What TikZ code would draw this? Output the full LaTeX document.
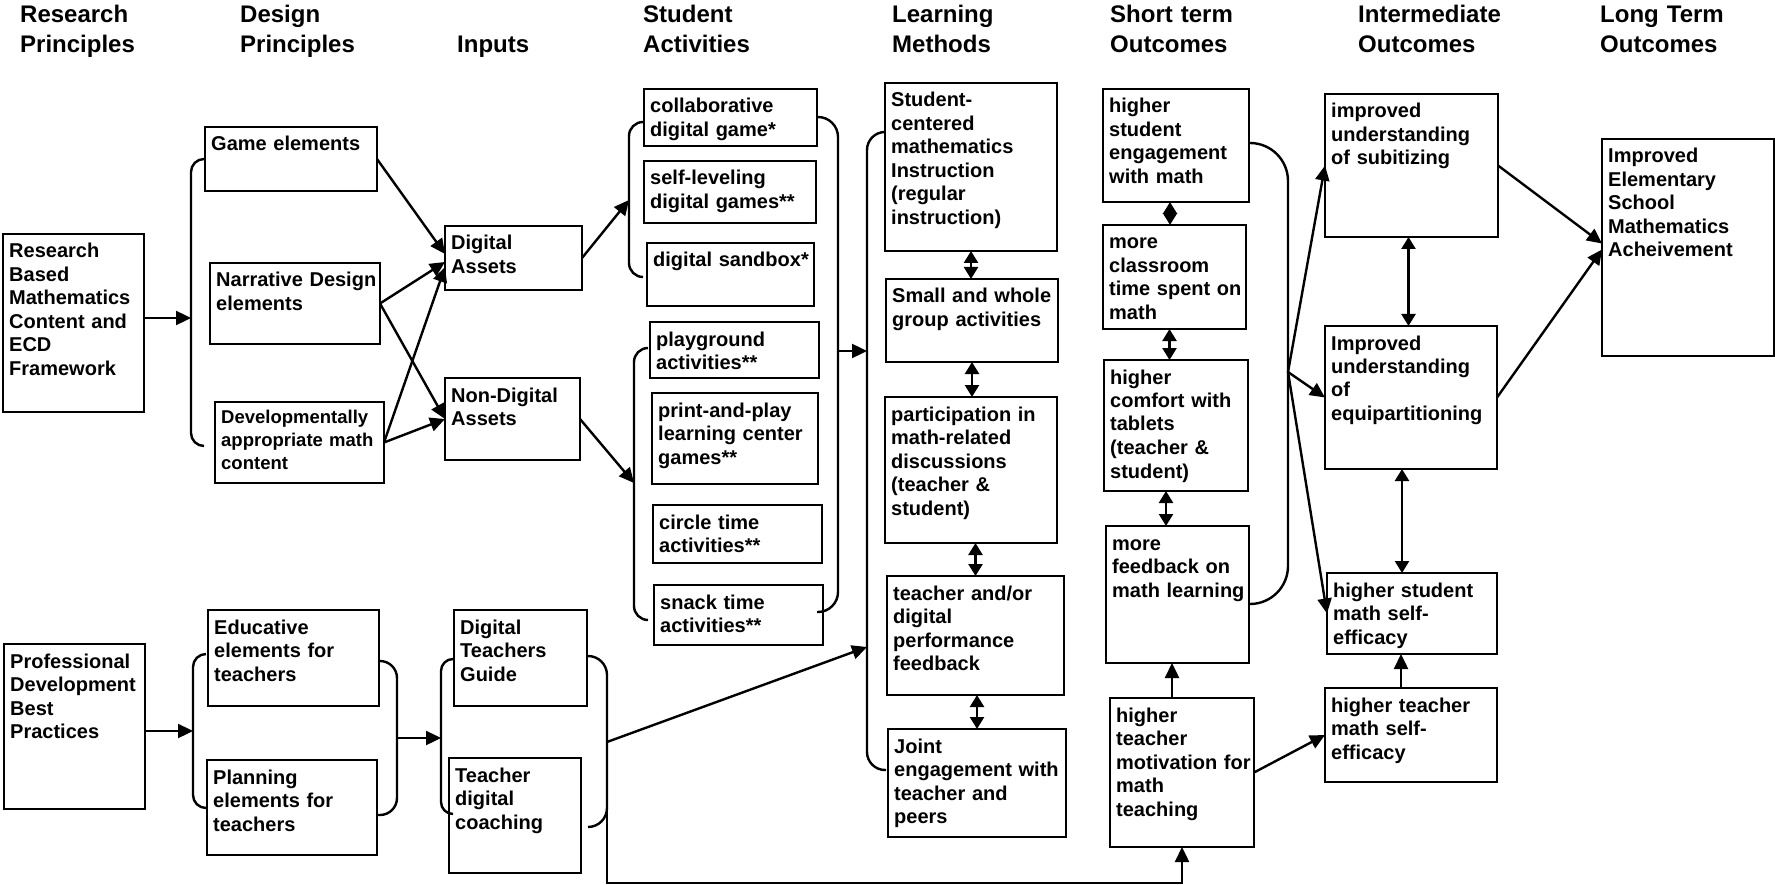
\documentclass[tikz,border=0pt]{standalone}
\usepackage{fontspec}
\setmainfont{Liberation Sans}
\usetikzlibrary{arrows.meta}

\begin{document}
\begin{tikzpicture}[x=1pt,y=-1pt,
  box/.style={draw,line width=2.9pt,anchor=north west,inner sep=0pt,outer sep=0pt},
  txt/.style={anchor=base west,xshift=6pt,yshift=-24pt,align=left,text width=300pt,inner sep=0pt,font=\bfseries\fontsize{20}{23.5}\selectfont},
  head/.style={anchor=base west,align=left,text width=300pt,inner sep=0pt,font=\bfseries\fontsize{24}{30}\selectfont},
  conn/.style={line width=2.4pt,-{Triangle[length=15pt,width=14pt]}},
  both/.style={line width=2.4pt,{Triangle[length=12pt,width=14pt]}-{Triangle[length=12pt,width=14pt]}},
  bracket/.style={line width=2.4pt,rounded corners=#1}
]
\useasboundingbox (0,0) rectangle (1775,885);

\node[head] (hRes) at (20,23) {Research\\Principles};
\node[head] (hDes) at (240,23) {Design\\Principles};
\node[head] (hInp) at (457,53) {Inputs};
\node[head] (hAct) at (643,23) {Student\\Activities};
\node[head] (hLrn) at (892,23) {Learning\\Methods};
\node[head] (hSht) at (1110,23) {Short term\\Outcomes};
\node[head] (hMid) at (1358,23) {Intermediate\\Outcomes};
\node[head] (hLng) at (1600,23) {Long Term\\Outcomes};

\node[box,minimum width=141,minimum height=178] (res) at (3,234) {};
\node[txt] (resT) at (res.north west) {Research\\Based\\Mathematics\\Content and\\ECD\\Framework};
\node[box,minimum width=141,minimum height=165] (prof) at (4,644) {};
\node[txt] (profT) at (prof.north west) {Professional\\Development\\Best\\Practices};

\node[box,minimum width=172,minimum height=64] (game) at (205,127) {};
\node[txt] (gameT) at (game.north west) {Game elements};
\node[box,minimum width=170,minimum height=81] (narr) at (210,263) {};
\node[txt] (narrT) at (narr.north west) {Narrative Design\\elements};
\node[box,minimum width=169,minimum height=81] (dev) at (215,402) {};
\node[txt,yshift=3pt,font=\bfseries\fontsize{18.5}{23}\selectfont] (devT) at (dev.north west) {Developmentally\\appropriate math\\content};
\node[box,minimum width=171,minimum height=96] (edu) at (208,610) {};
\node[txt] (eduT) at (edu.north west) {Educative\\elements for\\teachers};
\node[box,minimum width=170,minimum height=95] (plan) at (207,760) {};
\node[txt] (planT) at (plan.north west) {Planning\\elements for\\teachers};

\node[box,minimum width=137,minimum height=64] (dig) at (445,226) {};
\node[txt] (digT) at (dig.north west) {Digital\\Assets};
\node[box,minimum width=135,minimum height=82] (nondig) at (445,378) {};
\node[txt] (nondigT) at (nondig.north west) {Non-Digital\\Assets};
\node[box,minimum width=133,minimum height=96] (dtg) at (454,610) {};
\node[txt] (dtgT) at (dtg.north west) {Digital\\Teachers\\Guide};
\node[box,minimum width=132,minimum height=115] (tdc) at (449,758) {};
\node[txt] (tdcT) at (tdc.north west) {Teacher\\digital\\coaching};

\node[box,minimum width=173,minimum height=57] (collab) at (644,89) {};
\node[txt] (collabT) at (collab.north west) {collaborative\\digital game*};
\node[box,minimum width=172,minimum height=62] (selflev) at (644,161) {};
\node[txt] (selflevT) at (selflev.north west) {self-leveling\\digital games**};
\node[box,minimum width=167,minimum height=63] (sandbox) at (647,243) {};
\node[txt] (sandboxT) at (sandbox.north west) {digital sandbox*};
\node[box,minimum width=169,minimum height=56] (play) at (650,322) {};
\node[txt] (playT) at (play.north west) {playground\\activities**};
\node[box,minimum width=166,minimum height=91] (print) at (652,393) {};
\node[txt] (printT) at (print.north west) {print-and-play\\learning center\\games**};
\node[box,minimum width=169,minimum height=58] (circle) at (653,505) {};
\node[txt] (circleT) at (circle.north west) {circle time\\activities**};
\node[box,minimum width=169,minimum height=60] (snack) at (654,585) {};
\node[txt] (snackT) at (snack.north west) {snack time\\activities**};

\node[box,minimum width=172,minimum height=168] (sc) at (885,83) {};
\node[txt] (scT) at (sc.north west) {Student-\\centered\\mathematics\\Instruction\\(regular\\instruction)};
\node[box,minimum width=172,minimum height=83] (small) at (886,279) {};
\node[txt] (smallT) at (small.north west) {Small and whole\\group activities};
\node[box,minimum width=172,minimum height=146] (part) at (885,397) {};
\node[txt] (partT) at (part.north west) {participation in\\math-related\\discussions\\(teacher \&\\student)};
\node[box,minimum width=177,minimum height=119] (perf) at (887,576) {};
\node[txt] (perfT) at (perf.north west) {teacher and/or\\digital\\performance\\feedback};
\node[box,minimum width=178,minimum height=108] (joint) at (888,729) {};
\node[txt] (jointT) at (joint.north west) {Joint\\engagement with\\teacher and\\peers};

\node[box,minimum width=146,minimum height=113] (eng) at (1103,89) {};
\node[txt] (engT) at (eng.north west) {higher\\student\\engagement\\with math};
\node[box,minimum width=143,minimum height=104] (room) at (1103,225) {};
\node[txt] (roomT) at (room.north west) {more\\classroom\\time spent on\\math};
\node[box,minimum width=144,minimum height=131] (comf) at (1104,360) {};
\node[txt] (comfT) at (comf.north west) {higher\\comfort with\\tablets\\(teacher \&\\student)};
\node[box,minimum width=143,minimum height=137] (fb) at (1106,526) {};
\node[txt] (fbT) at (fb.north west) {more\\feedback on\\math learning};
\node[box,minimum width=144,minimum height=149] (motiv) at (1110,698) {};
\node[txt] (motivT) at (motiv.north west) {higher\\teacher\\motivation for\\math\\teaching};

\node[box,minimum width=173,minimum height=143] (subit) at (1325,94) {};
\node[txt] (subitT) at (subit.north west) {improved\\understanding\\of subitizing};
\node[box,minimum width=172,minimum height=143] (equi) at (1325,326) {};
\node[txt] (equiT) at (equi.north west) {Improved\\understanding\\of\\equipartitioning};
\node[box,minimum width=170,minimum height=81] (seff) at (1327,573) {};
\node[txt] (seffT) at (seff.north west) {higher student\\math self-\\efficacy};
\node[box,minimum width=172,minimum height=94] (teff) at (1325,688) {};
\node[txt] (teffT) at (teff.north west) {higher teacher\\math self-\\efficacy};

\node[box,minimum width=172,minimum height=217] (achv) at (1602,139) {};
\node[txt] (achvT) at (achv.north west) {Improved\\Elementary\\School\\Mathematics\\Acheivement};

\coordinate (b1) at (191,318);
\coordinate (b2) at (629,200);
\coordinate (b3) at (634,483);
\coordinate (b4) at (838,351);
\coordinate (b5) at (867,351);
\coordinate (b5b) at (867,647);
\coordinate (b6) at (193,731);
\coordinate (b7) at (397,738);
\coordinate (b8) at (441,738);
\coordinate (b9) at (607,742);
\coordinate (b10) at (1288,372);

\draw[bracket=13pt] (204,159) -| (b1) |- (204,446);
\draw[bracket=14pt] (643,122) -| (b2) |- (643,277);
\draw[bracket=14pt] (648,348) -| (b3) |- (648,620);
\draw[bracket=20pt] (817,117) -| (b4) |- (817,612);
\draw[bracket=18pt] (885,132) -| (b5) |- (886,770);
\draw[bracket=13pt] (206,654) -| (b6) |- (206,808);
\draw[bracket=17pt] (379,661) -| (b7) |- (378,815);
\draw[bracket=12pt] (453,659) -| (b8) |- (453,814);
\draw[bracket=19pt] (588,656) -| (b9) |- (588,827);
\draw[bracket=38pt] (1249,143) -| (b10) |- (1248,604);

\draw[conn] (res.east |- b1) -- (b1);
\draw[conn] (game.east) -- ([yshift=4pt]dig.west);
\draw[conn] (narr.east) -- ([yshift=-4pt]dig.west);
\draw[conn] (narr.east) -- (nondig.west);
\draw[conn] (dev.east) -- ([yshift=-9pt]dig.west);
\draw[conn] (dev.east) -- (nondig.west);
\draw[conn] (dig.east) -- (b2);
\draw[conn] (nondig.east) -- (b3);
\draw[conn] (b4) -- (b5);
\draw[conn] (prof.east |- b6) -- (b6);
\draw[conn] (b7) -- (b8);
\draw[conn] (b9) -- (b5b);
\draw[conn] (b9) -- ++(0,141) -| (motiv.south);

\draw[both] (sc.south) -- (sc.south |- small.north);
\draw[both] (small.south) -- (small.south |- part.north);
\draw[both] (perf.north |- part.south) -- (perf.north);
\draw[both] (joint.north |- perf.south) -- (joint.north);

\draw[both] ([xshift=-6pt]eng.south) -- ([xshift=-6pt]eng.south |- room.north);
\draw[both] ([xshift=-5pt]room.south) -- ([xshift=-5pt]room.south |- comf.north);
\draw[both] ([xshift=-10pt]comf.south) -- ([xshift=-10pt]comf.south |- fb.north);
\draw[conn] ([xshift=-10pt]motiv.north) -- ([xshift=-10pt]motiv.north |- fb.south);

\draw[conn] (b10) -- (subit.west);
\draw[conn] (b10) -- (equi.west);
\draw[conn] (b10) -- (seff.west);
\draw[conn] (motiv.east) -- (teff.west);

\draw[both] ([xshift=-3pt]subit.south) -- ([xshift=-3pt]subit.south |- equi.north);
\draw[both] ([xshift=-9pt]equi.south) -- ([xshift=-9pt]equi.south |- seff.north);
\draw[conn] ([xshift=-10pt]teff.north) -- ([xshift=-10pt]teff.north |- seff.south);

\draw[conn] (subit.east) -- ([yshift=4pt]achv.west);
\draw[conn] (equi.east) -- ([yshift=-2pt]achv.west);
\end{tikzpicture}
\end{document}
